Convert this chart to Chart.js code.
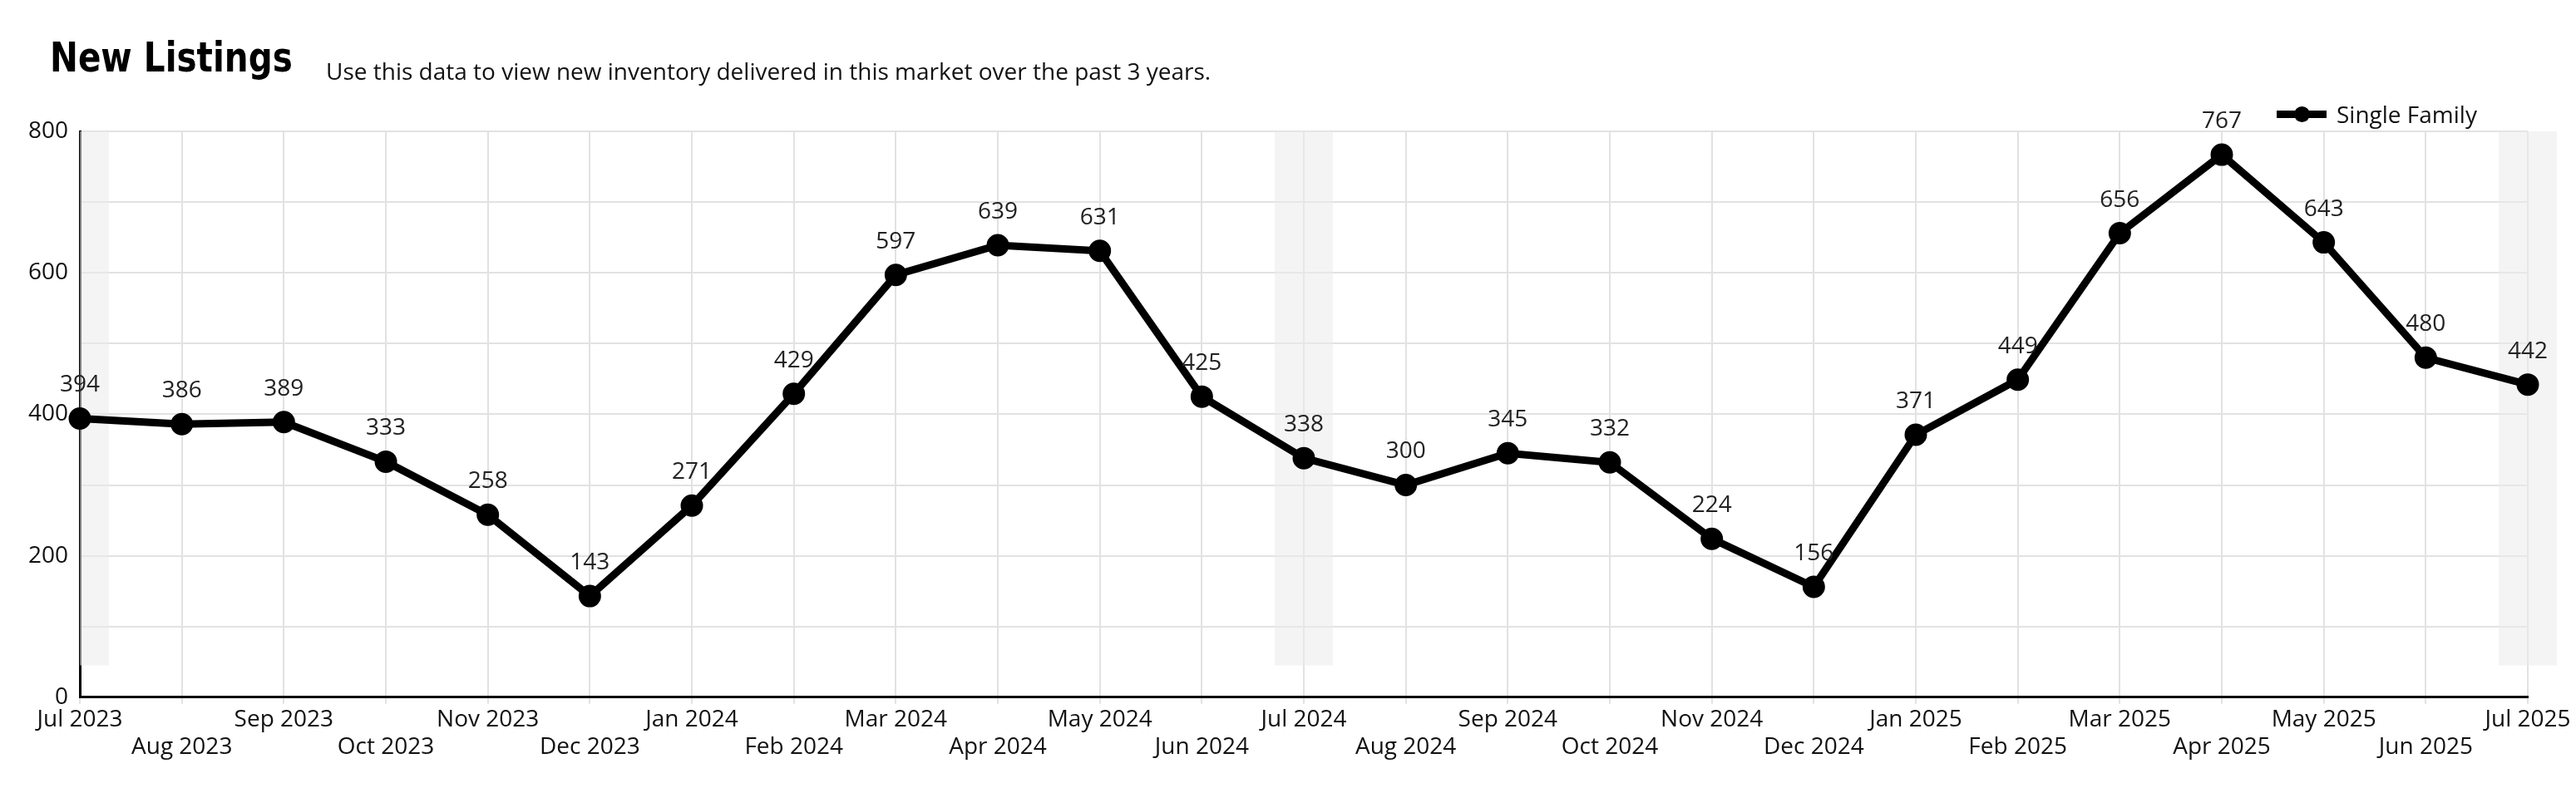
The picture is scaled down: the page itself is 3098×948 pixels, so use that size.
<!DOCTYPE html>
<html>
<head>
<meta charset="utf-8">
<script src="https://cdn.jsdelivr.net/npm/chart.js@4"></script>
<style>
  body { margin: 0; background: #fff; }
  #wrap { position: relative; width: 3098px; height: 948px; }
  #title { position: absolute; left: 60px; top: 40px; font-family: "Liberation Sans Narrow", "DejaVu Sans Condensed", sans-serif; font-weight: bold; font-size: 50px; color: #000; transform: scaleX(0.9); transform-origin: left; }
  #sub { position: absolute; left: 392px; top: 66px; font-family: "Open Sans", sans-serif; font-size: 28px; color: #111; }
  #legend { position: absolute; left: 2738px; top: 118px; font-family: "Open Sans", sans-serif; font-size: 28px; color: #111; display: flex; align-items: center; }
  #legend .ln { width: 60px; height: 9px; background: #000; position: relative; margin-right: 12px; }
  #legend .ln::after { content: ""; position: absolute; left: 21px; top: -5px; width: 19px; height: 19px; border-radius: 50%; background: #000; }
</style>
</head>
<body>
<div id="wrap">
  <div id="title">New Listings</div>
  <div id="sub">Use this data to view new inventory delivered in this market over the past 3 years.</div>
  <div id="legend"><span class="ln"></span>Single Family</div>
  <canvas id="chart-new-listings" width="3098" height="948"></canvas>
</div>
<script>
var months = ["Jul 2023", "Aug 2023", "Sep 2023", "Oct 2023", "Nov 2023", "Dec 2023", "Jan 2024", "Feb 2024", "Mar 2024", "Apr 2024", "May 2024", "Jun 2024",
    "Jul 2024", "Aug 2024", "Sep 2024", "Oct 2024", "Nov 2024", "Dec 2024", "Jan 2025", "Feb 2025", "Mar 2025", "Apr 2025", "May 2025", "Jun 2025", "Jul 2025"];
var singleFamily = [394, 386, 389, 333, 258, 143, 271, 429, 597, 639, 631, 425,
    338, 300, 345, 332, 224, 156, 371, 449, 656, 767, 643, 480, 442];
var yTicks = [0, 200, 400, 600, 800];
var shadedMonths = ["Jul 2023", "Jul 2024", "Jul 2025"];

// odd months go on a second row
var xLabels = months.map(function (m, i) { return i % 2 ? ["", m] : m; });

var bandPlugin = {
    id: "bands",
    beforeDatasetsDraw: function (chart) {
        var ctx = chart.ctx, x = chart.scales.x, y = chart.scales.y;
        ctx.save();
        ctx.fillStyle = "rgba(235,235,235,0.55)";
        shadedMonths.forEach(function (m) {
            var px = x.getPixelForValue(months.indexOf(m));
            var left = Math.max(px - 35, chart.chartArea.left);
            ctx.fillRect(left, y.getPixelForValue(800), px + 35 - left, y.getPixelForValue(45) - y.getPixelForValue(800));
        });
        ctx.restore();
    }
};

var labelPlugin = {
    id: "pointLabels",
    afterDatasetsDraw: function (chart) {
        var ctx = chart.ctx;
        var meta = chart.getDatasetMeta(0);
        ctx.save();
        ctx.font = "28px 'Open Sans', sans-serif";
        ctx.fillStyle = "#222";
        ctx.textAlign = "center";
        ctx.textBaseline = "bottom";
        meta.data.forEach(function (pt, i) {
            ctx.fillText(singleFamily[i], pt.x, pt.y - 26);
        });
        ctx.restore();
    }
};

new Chart(document.getElementById("chart-new-listings"), {
    type: "line",
    data: {
        labels: xLabels,
        datasets: [{
            label: "Single Family",
            data: singleFamily,
            borderColor: "#000",
            backgroundColor: "#000",
            borderWidth: 9,
            pointRadius: 9,
            pointHoverRadius: 9,
            tension: 0,
            fill: false
        }]
    },
    options: {
        responsive: false,
        animation: false,
        devicePixelRatio: 1,
        layout: { padding: { top: 158, left: 20, right: 58, bottom: 30 } },
        plugins: { legend: { display: false }, tooltip: { enabled: false } },
        scales: {
            x: {
                offset: false,
                grid: { color: "#e2e2e2", lineWidth: 2, drawTicks: true, tickLength: 8 },
                border: { color: "#000", width: 3 },
                ticks: { autoSkip: false, maxRotation: 0, color: "#111", font: { family: "'Open Sans', sans-serif", size: 28 }, padding: 2 }
            },
            y: {
                min: 0, max: 800,
                grid: { color: "#e2e2e2", lineWidth: 2, drawTicks: false },
                border: { color: "#000", width: 3 },
                ticks: {
                    stepSize: 100, color: "#111", padding: 14,
                    font: { family: "'Open Sans', sans-serif", size: 28 },
                    callback: function (v) { return yTicks.indexOf(v) >= 0 ? v : ""; }
                }
            }
        }
    },
    plugins: [bandPlugin, labelPlugin]
});
</script>
</body>
</html>
